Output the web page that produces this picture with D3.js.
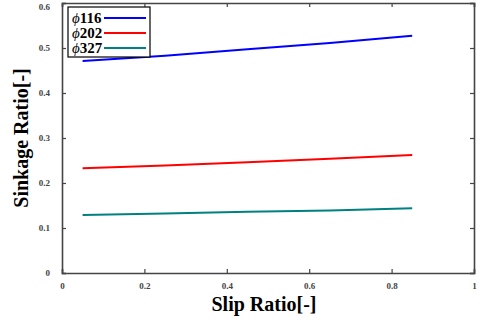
<!DOCTYPE html>
<html>
<head>
<meta charset="utf-8">
<script src="https://cdn.jsdelivr.net/npm/d3@7"></script>
<style>
  body { margin: 0; background: #fff; }
  svg { display: block; }
  text { font-family: "Liberation Serif", "Times New Roman", serif; }
</style>
</head>
<body>
<script>
const slip = [0.05, 0.25, 0.45, 0.65, 0.85];
const phi116 = [0.471, 0.483, 0.497, 0.511, 0.527];
const phi202 = [0.233, 0.239, 0.246, 0.254, 0.262];
const phi327 = [0.129, 0.132, 0.136, 0.139, 0.144];
const seriesNames = ['116', '202', '327'];
const seriesColors = ['#0000ff', '#ff0000', '#008080'];
const xTicks = [0, 0.2, 0.4, 0.6, 0.8, 1];
const yTicks = [0, 0.1, 0.2, 0.3, 0.4, 0.5, 0.6];

const width = 481, height = 324;
const m = {left: 62, right: 7, top: 3, bottom: 51};
const innerW = width - m.left - m.right;
const innerH = height - m.top - m.bottom;
const serif = '"Liberation Serif", "Times New Roman", serif';

const svg = d3.select('body').append('svg')
    .attr('width', width)
    .attr('height', height);

const x = d3.scaleLinear().domain([0, 1]).range([0, innerW]);
const y = d3.scaleLinear().domain([0, 0.6]).range([innerH, 0]);

const g = svg.append('g').attr('transform', `translate(${m.left},${m.top})`);

const axisColor = '#444';
const fmt = d => (d === 0 ? '0' : d === 1 ? '1' : d3.format('.1f')(d));

// bottom + left axes with inward ticks
const bx = g.append('g').attr('transform', `translate(0,${innerH})`)
    .call(d3.axisBottom(x).tickValues(xTicks).tickSize(-4).tickPadding(10).tickFormat(fmt));
const ly = g.append('g')
    .call(d3.axisLeft(y).tickValues(yTicks).tickSize(-4).tickPadding(12).tickFormat(fmt));
// top + right ticks, no labels
const tx = g.append('g')
    .call(d3.axisTop(x).tickValues(xTicks).tickSize(-4).tickFormat(''));
const ry = g.append('g').attr('transform', `translate(${innerW},0)`)
    .call(d3.axisRight(y).tickValues(yTicks).tickSize(-4).tickFormat(''));

[bx, ly, tx, ry].forEach(a => {
    a.attr('font-family', serif);
    a.select('.domain').attr('stroke', axisColor).attr('stroke-width', 1.6);
    a.selectAll('.tick line').attr('stroke', axisColor).attr('stroke-width', 1.2);
    a.selectAll('.tick text')
        .attr('fill', '#444')
        .attr('font-family', serif)
        .attr('font-weight', 'bold')
        .attr('font-size', 9);
});
// keep the top label inside the picture
ly.selectAll('.tick text').filter(d => d === 0.6).attr('dy', '0.75em');

const line = d3.line()
    .x((d, i) => x(slip[i]))
    .y(d => y(d));

[phi116, phi202, phi327].forEach((vals, i) => {
    g.append('path')
        .datum(vals)
        .attr('fill', 'none')
        .attr('stroke', seriesColors[i])
        .attr('stroke-width', 2)
        .attr('d', line);
});

// legend
const legend = g.append('g').attr('transform', 'translate(6,4)');
legend.append('rect')
    .attr('width', 82).attr('height', 50)
    .attr('fill', '#fff').attr('stroke', '#000').attr('stroke-width', 1.2);
seriesNames.forEach((name, i) => {
    const row = legend.append('g').attr('transform', `translate(0,${11 + i * 15})`);
    const t = row.append('text')
        .attr('x', 4).attr('y', 5)
        .attr('font-family', serif)
        .attr('font-size', 15)
        .attr('font-weight', 'bold');
    t.append('tspan').attr('font-style', 'italic').attr('font-weight', 'normal').text('\u03d5');
    t.append('tspan').text(name);
    row.append('line')
        .attr('x1', 36).attr('x2', 78)
        .attr('stroke', seriesColors[i]).attr('stroke-width', 2);
});

// axis titles
svg.append('text')
    .attr('x', 264)
    .attr('y', 311)
    .attr('text-anchor', 'middle')
    .attr('font-family', serif)
    .attr('font-size', 20)
    .attr('font-weight', 'bold')
    .text('Slip Ratio[-]');

svg.append('text')
    .attr('transform', `translate(28,${m.top + innerH / 2}) rotate(-90)`)
    .attr('text-anchor', 'middle')
    .attr('font-family', serif)
    .attr('font-size', 20)
    .attr('font-weight', 'bold')
    .text('Sinkage Ratio[-]');
</script>
</body>
</html>
